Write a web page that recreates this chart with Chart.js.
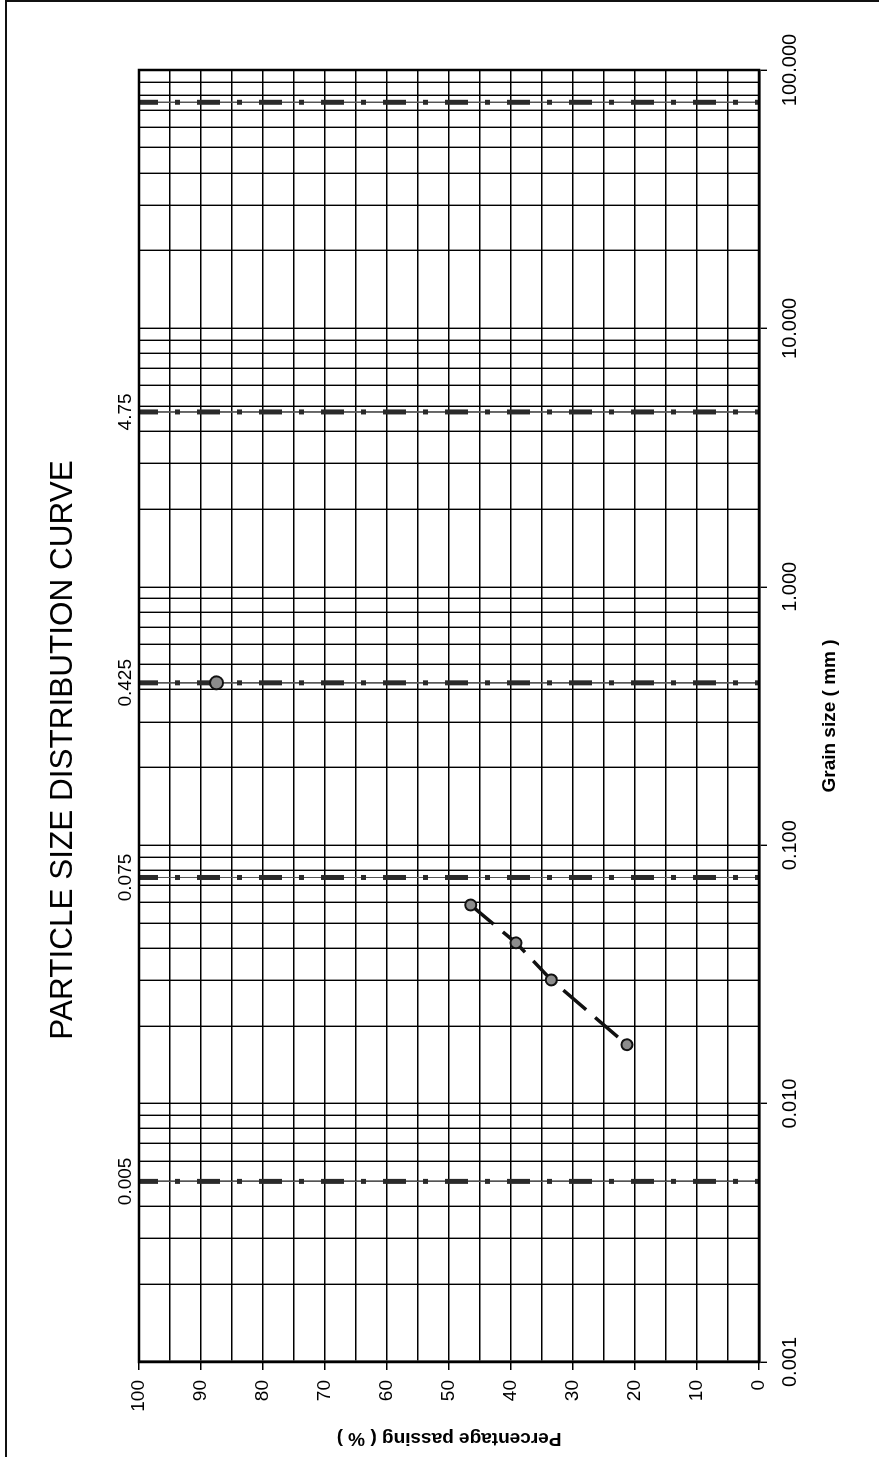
<!DOCTYPE html>
<html>
<head>
<meta charset="utf-8">
<title>Particle Size Distribution Curve</title>
<script src="https://cdn.jsdelivr.net/npm/chart.js@4/dist/chart.umd.min.js"></script>
<style>
  html, body { margin: 0; padding: 0; background: #fff; }
  body { width: 879px; height: 1457px; overflow: hidden; position: relative; }
  /* the sheet is laid out landscape and turned a quarter turn onto the page */
  #sheet {
    position: absolute; left: 0; top: 0;
    width: 1457px; height: 879px;
    transform-origin: 0 0;
    transform: translate(0, 1457px) rotate(-90deg);
  }
  #page-edge {
    position: absolute; left: 5px; top: 0; width: 900px; height: 1470px;
    border-left: 2px solid #111; border-top: 2px solid #111;
    pointer-events: none;
  }
  canvas { display: block; }
</style>
</head>
<body>
<div id="page-edge"></div>
<div id="sheet"><canvas id="psd" width="1457" height="879"></canvas></div>
<script>
// Grain size axis (mm) and labelled decades
const grainMin = 0.001;
const grainMax = 100;
const grainDecadeLabels = ['0.001', '0.010', '0.100', '1.000', '10.000', '100.000'];

// Soil classification boundaries (mm) drawn as dash-dot lines
const boundarySizes = [0.005, 0.075, 0.425, 4.75, 75];
const boundaryLabelSizes = [0.005, 0.075, 0.425, 4.75];
const boundaryLabels = ['0.005', '0.075', '0.425', '4.75'];

// Percentage passing axis
const passingTicks = [0, 10, 20, 30, 40, 50, 60, 70, 80, 90, 100];

// Sieve result
const sieveSize = [0.425];
const sievePassing = [87.5];

// Hydrometer results
const hydroSize = [0.0587, 0.0419, 0.0301, 0.0169];
const hydroPassing = [46.5, 39.2, 33.5, 21.3];

const chartTitle = 'PARTICLE SIZE DISTRIBUTION CURVE';

const FONT = 'Arial, "Liberation Sans", Helvetica, sans-serif';
Chart.defaults.font.family = FONT;
Chart.defaults.color = '#000';

const isDecade = v => Math.abs(Math.log10(v) - Math.round(Math.log10(v))) < 1e-9;

// every 1..9 x 10^n line between the axis limits
function logGridValues(min, max) {
  const out = [];
  for (let e = Math.round(Math.log10(min)); e <= Math.round(Math.log10(max)); e++) {
    for (let m = 1; m <= 9; m++) {
      const v = parseFloat((m * Math.pow(10, e)).toPrecision(6));
      if (v >= min - 1e-12 && v <= max + 1e-12) out.push(v);
    }
  }
  return out;
}

// each boundary: a hairline with a heavy dash-dot pattern laid over it
const boundaryDatasets = boundarySizes.flatMap(s => ([
  {
    label: 'boundary ' + s,
    data: [{ x: s, y: 100 }, { x: s, y: 0 }],
    showLine: true,
    borderColor: '#2a2a2a',
    borderWidth: 5,
    borderDash: [23, 17, 5, 17],
    borderDashOffset: 4,
    pointRadius: 0,
    borderCapStyle: 'butt',
    order: 3
  },
  {
    label: 'boundary hairline ' + s,
    data: [{ x: s, y: 100 }, { x: s, y: 0 }],
    showLine: true,
    borderColor: '#555',
    borderWidth: 1,
    pointRadius: 0,
    order: 4
  }
]));

// heavy border round the plotting area
const plotFrame = {
  id: 'plotFrame',
  afterDatasetsDraw(chart) {
    const { ctx, chartArea: a } = chart;
    ctx.save();
    ctx.lineWidth = 2.5;
    ctx.strokeStyle = '#000';
    ctx.strokeRect(a.left, a.top, a.right - a.left, a.bottom - a.top);
    ctx.restore();
  }
};

// sheet heading, placed in the band reserved above the plot
const sheetHeading = {
  id: 'sheetHeading',
  afterDraw(chart, args, opts) {
    const { ctx } = chart;
    ctx.save();
    ctx.font = '31.5px ' + FONT;
    ctx.fillStyle = '#000';
    ctx.textAlign = 'center';
    ctx.textBaseline = 'alphabetic';
    ctx.fillText(opts.text, opts.x, opts.y);
    ctx.restore();
  }
};

new Chart(document.getElementById('psd'), {
  type: 'scatter',
  data: {
    datasets: [
      ...boundaryDatasets,
      {
        label: 'Hydrometer',
        data: hydroSize.map((s, i) => ({ x: s, y: hydroPassing[i] })),
        showLine: true,
        borderColor: '#111',
        borderWidth: 3.5,
        borderDash: [30, 12],
        pointRadius: 5.5,
        pointBackgroundColor: '#8c8c8c',
        pointBorderColor: '#111',
        pointBorderWidth: 2,
        order: 1
      },
      {
        label: 'Sieve',
        data: sieveSize.map((s, i) => ({ x: s, y: sievePassing[i] })),
        showLine: false,
        pointRadius: 6.5,
        pointBackgroundColor: '#8c8c8c',
        pointBorderColor: '#111',
        pointBorderWidth: 2,
        order: 1
      }
    ]
  },
  options: {
    responsive: false,
    animation: false,
    devicePixelRatio: 1,
    layout: { padding: { left: 0, right: 70, top: 78, bottom: 0 } },
    plugins: {
      legend: { display: false },
      tooltip: { enabled: false },
      title: { display: false },
      sheetHeading: { text: chartTitle, x: 707, y: 72 }
    },
    scales: {
      x: {
        type: 'logarithmic',
        position: 'bottom',
        min: grainMin,
        max: grainMax,
        afterBuildTicks: s => { s.ticks = logGridValues(grainMin, grainMax).map(v => ({ value: v })); },
        afterFit: s => { s.height = 120; },
        ticks: {
          autoSkip: false,
          maxRotation: 0,
          minRotation: 0,
          padding: 11,
          font: { size: 20 },
          callback: v => isDecade(v) ? grainDecadeLabels[Math.round(Math.log10(v) - Math.log10(grainMin))] : ''
        },
        grid: {
          color: '#000',
          lineWidth: 1.4,
          tickLength: 8,
          tickColor: c => (c.tick && isDecade(c.tick.value)) ? '#000' : 'rgba(0,0,0,0)'
        },
        border: { display: true, color: '#000', width: 2.5 },
        title: {
          display: true,
          text: 'Grain size ( mm )',
          font: { size: 19, weight: 'bold' },
          padding: { top: 0, bottom: 38 }
        }
      },
      xTop: {
        type: 'logarithmic',
        position: 'top',
        min: grainMin,
        max: grainMax,
        afterBuildTicks: s => { s.ticks = boundaryLabelSizes.map(v => ({ value: v })); },
        afterFit: s => { s.height = 61; },
        ticks: {
          autoSkip: false,
          maxRotation: 0,
          minRotation: 0,
          padding: 2,
          font: { size: 19 },
          callback: (v, i) => boundaryLabels[i]
        },
        grid: { display: false, drawTicks: false },
        border: { display: false }
      },
      y: {
        type: 'linear',
        position: 'left',
        min: 0,
        max: 100,
        afterFit: s => { s.width = 95; },
        ticks: {
          stepSize: 5,
          padding: 10,
          font: { size: 19 },
          callback: v => passingTicks.includes(v) ? String(v) : ''
        },
        grid: {
          color: '#000',
          lineWidth: 1.5,
          tickLength: 8,
          tickColor: c => (c.tick && passingTicks.includes(c.tick.value)) ? '#000' : 'rgba(0,0,0,0)'
        },
        border: { display: true, color: '#000', width: 2.5 },
        title: {
          display: true,
          text: 'Percentage passing ( % )',
          font: { size: 19, weight: 'bold' },
          padding: { top: 7, bottom: 0 }
        }
      }
    }
  },
  plugins: [plotFrame, sheetHeading]
});
</script>
</body>
</html>
